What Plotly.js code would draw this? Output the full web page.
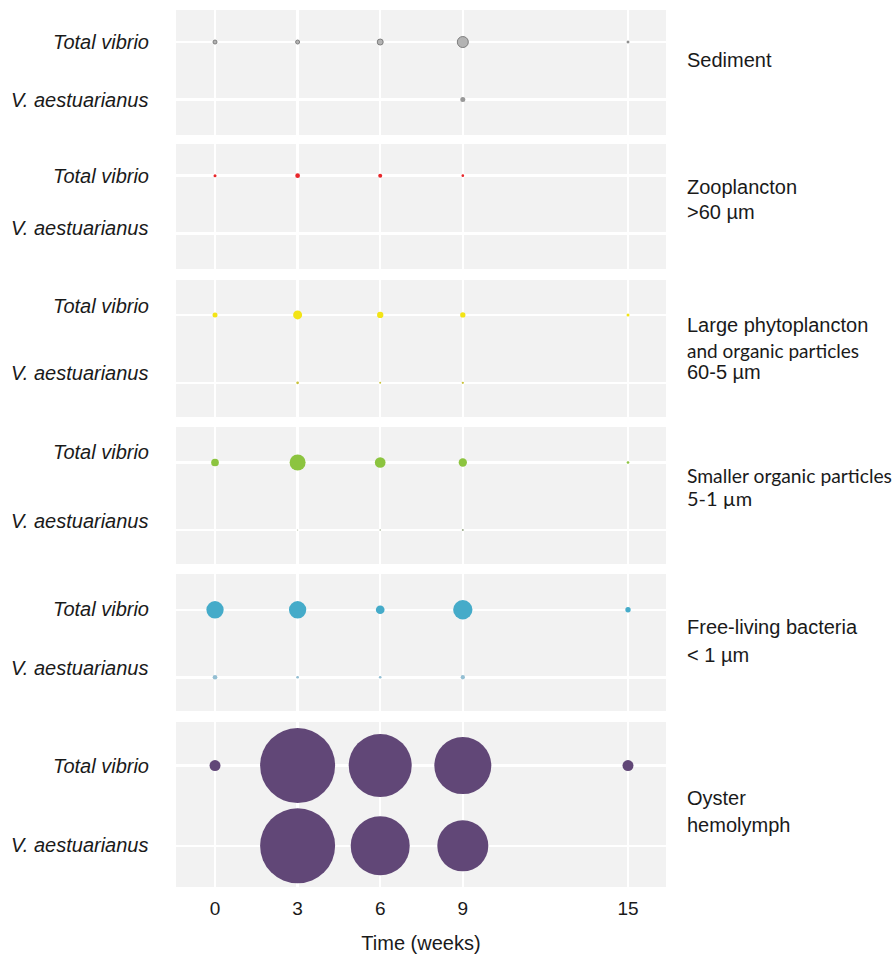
<!DOCTYPE html>
<html>
<head>
<meta charset="utf-8">
<script src="https://cdn.plot.ly/plotly-3.0.1.min.js"></script>
<style>html,body{margin:0;padding:0;background:#fff;}#chart{width:895px;height:958px;}</style>
</head>
<body>
<div id="chart"></div>
<script>
// ---- data ----
const weeks = [0, 3, 6, 9, 15];
const rowLabels = ['V. aestuarianus', 'Total vibrio'];
const xTickVals = [0, 3, 6, 9, 15];
const xTickText = ['0', '3', '6', '9', '15'];

const fractionNames = ['Sediment', 'Zooplancton', 'Large phytoplancton', 'Smaller organic particles', 'Free-living bacteria', 'Oyster hemolymph'];

// bubble diameters (null = no bubble)
const sedimentTotal = [4, 4, 6, 11, 2];
const sedimentAest = [null, null, null, 5, null];
const zooTotal = [3, 4.7, 4, 2.7, null];
const zooAest = [null, null, null, null, null];
const largeTotal = [5, 9, 6.3, 5.3, 3];
const largeAest = [null, 2.7, 2, 2.3, null];
const smallTotal = [7.7, 16, 10.7, 8.3, 2.7];
const smallAest = [null, 1, 1.5, 2, null];
const freeTotal = [17.3, 17.3, 8.7, 19.3, 5.3];
const freeAest = [4.7, 2.7, 2.7, 4.3, null];
const oysterTotal = [11, 75, 63, 57, 11];
const oysterAest = [null, 75, 59, 51, null];

const totalColors = ['#b3b3b3', '#e8262a', '#f3e415', '#8cc43f', '#45abc9', '#614777'];
const aestColors = ['#999999', '#e8262a', '#c9c23a', '#9aa88a', '#94bfd3', '#614777'];
const totalLines = ['#7d7d7d', '#e8262a', '#f3e415', '#8cc43f', '#45abc9', '#614777'];

// right-hand labels: [text, family, size, y(px)]
const rightLabelLines = [
  ['Sediment', 'sans', 20, 60],
  ['Zooplancton', 'sans', 20, 187],
  ['>60 µm', 'sans', 20, 212],
  ['Large phytoplancton', 'sans', 20, 325],
  ['and organic particles', 'lato', 19, 351],
  ['60-5 µm', 'sans', 20, 372],
  ['Smaller organic particles', 'lato', 19.3, 475],
  ['5-1 µm', 'lato', 20, 498],
  ['Free-living bacteria', 'sans', 20, 627],
  ['< 1 µm', 'sans', 20, 655],
  ['Oyster', 'sans', 20, 798],
  ['hemolymph', 'sans', 20, 825]
];

// ---- layout geometry (pixels) ----
const W = 895, H = 958;
const panelPx = [[10, 135], [144, 269], [280, 417], [427, 564], [574, 711], [722, 887]];
const yRanges = [[-0.617, 1.557], [-0.62, 1.55], [-0.502, 1.513], [-0.505, 1.526], [-0.5, 1.53], [-0.5125, 1.5425]];
// vertical nudge (px, up) of the row labels in each panel: [V. aestuarianus, Total vibrio]
const labelNudge = [[0, 0], [5, 0], [10, 9], [9, 10], [9, 1], [1, 0]];
const xPx = [176, 666];
const xRange = [-1.417, 16.38];

const totals = [sedimentTotal, zooTotal, largeTotal, smallTotal, freeTotal, oysterTotal];
const aests = [sedimentAest, zooAest, largeAest, smallAest, freeAest, oysterAest];

const families = {sans: 'Liberation Sans, Arial, Helvetica, sans-serif', lato: 'Lato, Open Sans, sans-serif'};

const traces = [];
const layout = {
  width: W, height: H,
  margin: {l: 0, r: 0, t: 0, b: 0},
  paper_bgcolor: '#ffffff',
  plot_bgcolor: '#f2f2f2',
  showlegend: false,
  font: {family: families.sans, size: 20, color: '#1a1a1a'},
  annotations: []
};

function pick(sizes, label) {
  const x = [], y = [], s = [];
  sizes.forEach((v, i) => { if (v !== null) { x.push(weeks[i]); y.push(label); s.push(v); } });
  return {x, y, s};
}

for (let p = 0; p < 6; p++) {
  const suf = p === 0 ? '' : String(p + 1);
  const xa = 'x' + suf, ya = 'y' + suf;
  const t = pick(totals[p], rowLabels[1]);
  const a = pick(aests[p], rowLabels[0]);
  traces.push({
    type: 'scatter', mode: 'markers', xaxis: xa, yaxis: ya,
    x: t.x, y: t.y, name: fractionNames[p] + ' – Total vibrio',
    marker: {size: t.s, color: totalColors[p], line: {color: totalLines[p], width: p === 0 ? 1 : 0}, opacity: 1},
    hoverinfo: 'x+y'
  });
  traces.push({
    type: 'scatter', mode: 'markers', xaxis: xa, yaxis: ya,
    x: a.x, y: a.y, name: fractionNames[p] + ' – V. aestuarianus',
    marker: {size: a.s, color: aestColors[p], line: {width: 0}, opacity: 1},
    hoverinfo: 'x+y'
  });
  const [top, bot] = panelPx[p];
  layout['xaxis' + suf] = {
    domain: [xPx[0] / W, xPx[1] / W],
    range: xRange,
    anchor: ya,
    tickvals: xTickVals,
    ticktext: xTickText,
    showticklabels: p === 5,
    ticks: '',
    showgrid: true, gridcolor: '#ffffff', gridwidth: 2.5,
    zeroline: false, showline: false,
    tickfont: {size: 19, color: '#1a1a1a'},
    ticklabelstandoff: 8,
    fixedrange: true
  };
  if (p === 5) {
    layout['xaxis' + suf].title = {text: 'Time (weeks)', font: {size: 20, color: '#1a1a1a'}, standoff: 17};
  }
  layout['yaxis' + suf] = {
    domain: [1 - bot / H, 1 - top / H],
    type: 'category',
    categoryorder: 'array',
    categoryarray: rowLabels,
    range: yRanges[p],
    anchor: xa,
    ticks: '',
    showticklabels: false,
    showgrid: true, gridcolor: '#ffffff', gridwidth: 2.5,
    zeroline: false, showline: false,
    fixedrange: true
  };
  // row labels, placed on the category positions of this panel's y axis
  rowLabels.forEach((lab, k) => {
    layout.annotations.push({
      text: lab, xref: 'paper', yref: ya,
      x: 151 / W, y: k, yshift: labelNudge[p][k],
      xanchor: 'right', yanchor: 'middle', showarrow: false,
      font: {family: families.sans, size: 20, color: '#1a1a1a', style: 'italic'}
    });
  });
}

rightLabelLines.forEach(([txt, fam, sz, ypx]) => {
  layout.annotations.push({
    text: txt, xref: 'paper', yref: 'paper',
    x: 685 / W, y: 1 - ypx / H,
    xanchor: 'left', yanchor: 'middle', showarrow: false,
    font: {family: families[fam], size: sz, color: '#1a1a1a'}
  });
});

Plotly.newPlot('chart', traces, layout, {displayModeBar: false, staticPlot: true});
</script>
</body>
</html>
